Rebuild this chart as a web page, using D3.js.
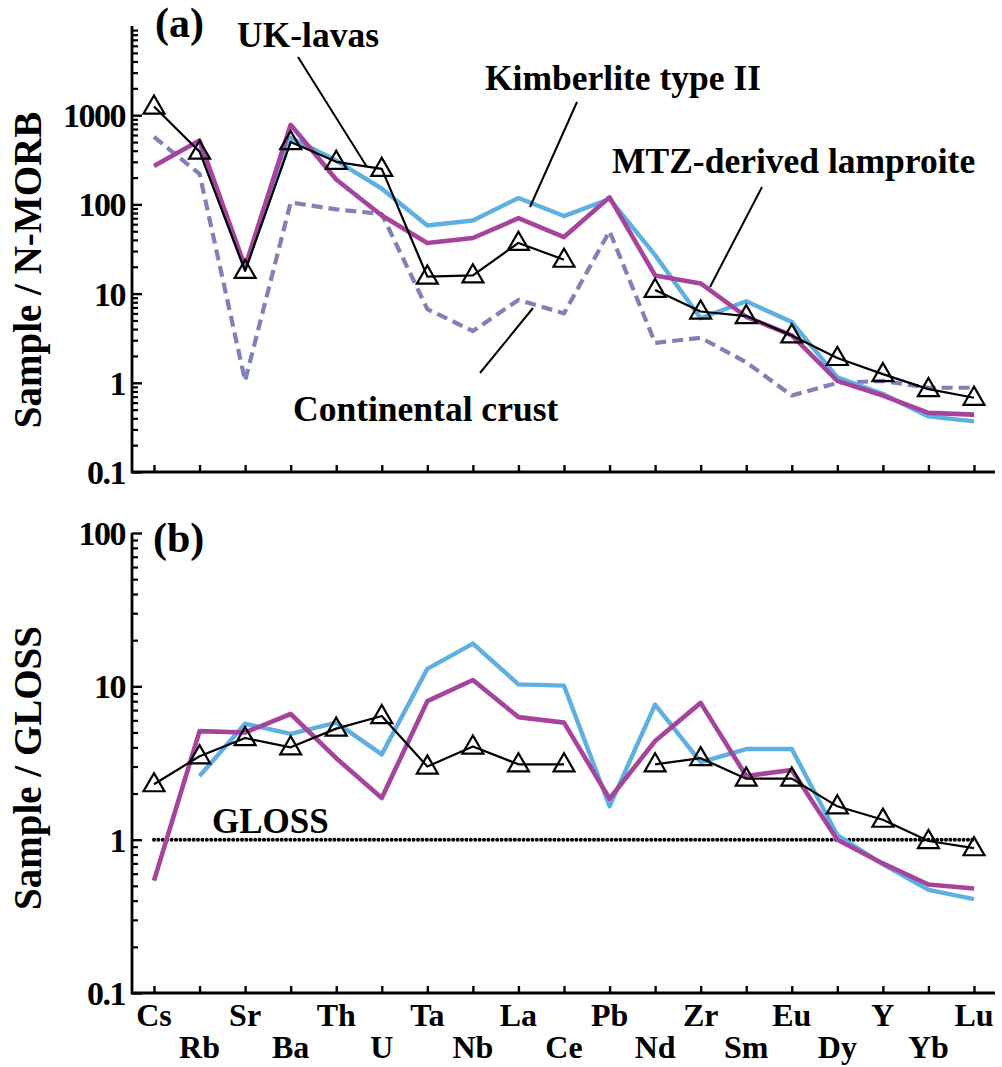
<!DOCTYPE html>
<html><head><meta charset="utf-8">
<script src="https://cdn.jsdelivr.net/npm/d3@7"></script>
<style>
html,body{margin:0;padding:0;background:#fff;}
svg{display:block;}
</style></head>
<body>
<svg id="chart" width="1002" height="1067"></svg>
<script>
const elements = ["Cs","Rb","Sr","Ba","Th","U","Ta","Nb","La","Ce","Pb","Nd","Zr","Sm","Eu","Dy","Y","Yb","Lu"];

// Panel (a): Sample / N-MORB
const ukTop   = [1250, 390, 18, 500, 300, 250, 15.5, 16, 37, 24, null, 11, 6.3, 5.6, 3.4, 1.9, 1.25, 0.85, 0.68];
const kimTop  = [null, 440, 19, 560, 310, 150, 58, 66, 118, 74, 115, 27, 5.3, 8.2, 4.8, 1.15, 0.75, 0.42, 0.37];
const mtzTop  = [270, 520, 20, 780, 190, 75, 37, 42, 70, 43, 120, 16, 13, 5.5, 3.4, 1.05, 0.72, 0.46, 0.44];
const ccTop   = [570, 220, 1.05, 105, 88, 78, 6.7, 3.8, 8.5, 6.0, 50, 2.8, 3.2, 1.7, 0.72, 1.0, 1.05, 0.88, 0.88];

// Panel (b): Sample / GLOSS
const ukBot   = [2.3, 3.5, 4.6, 4.0, 5.3, 6.4, 3.0, 4.05, 3.1, 3.1, null, 3.1, 3.4, 2.5, 2.5, 1.65, 1.35, 0.98, 0.88];
const kimBot  = [null, 2.6, 5.7, 4.9, 5.8, 3.6, 13, 19, 10.3, 10.1, 1.65, 7.6, 3.2, 3.9, 3.9, 1.07, 0.69, 0.47, 0.41];
const mtzBot  = [0.54, 5.1, 5.0, 6.6, 3.4, 1.87, 8.0, 11, 6.3, 5.8, 1.85, 4.4, 7.8, 2.6, 2.85, 1.0, 0.7, 0.51, 0.48];
const glossRef = 1;

const topTickLabels = ["0.1","1","10","100","1000"];
const topTickValues = [0.1, 1, 10, 100, 1000];
const botTickLabels = ["0.1","1","10","100"];
const botTickValues = [0.1, 1, 10, 100];

const COL_KIM = "#5eb0e2", COL_MTZ = "#a6449d", COL_CC = "#7f82b6";
const FONT = "'Liberation Serif', Tinos, 'DejaVu Serif', serif";

const svg = d3.select("#chart");
const x = d3.scalePoint().domain(elements).range([154, 974]);
const AX_L = 132, AX_R = 995;

function txt(g, s, xx, yy, size){
  return g.append("text").attr("x",xx).attr("y",yy).attr("font-size",size)
    .attr("font-family",FONT).attr("font-weight","bold").attr("fill","#000").text(s);
}

function minorTicks(lo, hi){
  const out=[];
  for(let e=Math.log10(lo); e<Math.log10(hi)-1e-9; e++){
    for(let m=2;m<=9;m++) out.push(m*Math.pow(10,e));
  }
  return out;
}

function panel(y, majors, labels, yTop, yBot, title, titleY){
  const g = svg.append("g");
  g.append("g").attr("transform",`translate(${AX_L},0)`)
    .call(d3.axisLeft(y).tickValues(minorTicks(y.domain()[0], y.domain()[1])).tickSize(-6).tickSizeOuter(0).tickFormat(""))
    .call(s=>{s.select(".domain").remove(); s.selectAll("line").attr("stroke-width",2.2);});
  g.append("g").attr("transform",`translate(${AX_L},0)`)
    .call(d3.axisLeft(y).tickValues(majors).tickSize(-10).tickSizeOuter(0).tickPadding(7)
      .tickFormat((d,i)=>labels[i]))
    .attr("font-family",FONT).attr("font-size",34).attr("font-weight","bold")
    .call(s=>{s.select(".domain").remove();
      s.selectAll("line").attr("stroke-width",2.4);
      s.selectAll("text").attr("fill","#000").attr("letter-spacing","-1.5").attr("dy","0.34em");});
  g.append("g").attr("transform",`translate(0,${yBot})`)
    .call(d3.axisBottom(x).tickSize(-7).tickSizeOuter(0).tickFormat(""))
    .call(s=>{s.select(".domain").remove(); s.selectAll("line").attr("stroke-width",2.4);});
  g.append("path").attr("d", d3.line()([[AX_L,yTop],[AX_L,yBot],[AX_R,yBot]]))
    .attr("fill","none").attr("stroke","#000").attr("stroke-width",2.8);
  txt(g, title, 0, 0, 39).attr("transform",`translate(41,${titleY}) rotate(-90)`)
    .attr("text-anchor","middle");
  return g;
}

function series(g, y, vals, color, width, dash){
  const line = d3.line().defined(d=>d[1]!=null).x(d=>x(d[0])).y(d=>y(d[1]));
  const pts = elements.map((e,i)=>[e, vals[i]]);
  g.append("path").attr("d", line(pts)).attr("fill","none").attr("stroke",color)
    .attr("stroke-width",width).attr("stroke-linejoin","round")
    .attr("stroke-dasharray", dash||null);
}
function triangles(g, y, vals){
  const sym = d3.symbol().type(d3.symbolTriangle).size(190);
  g.selectAll(null).data(elements.map((e,i)=>[e, vals[i]]).filter(d=>d[1]!=null))
    .enter().append("path").attr("d", sym)
    .attr("transform", d=>`translate(${x(d[0])},${y(d[1])+1})`)
    .attr("fill","none").attr("stroke","#000").attr("stroke-width",2.2);
}

// ---- Panel (a)
const yA = d3.scaleLog().domain([0.1, 10000]).range([472, 26]);
const gA = panel(yA, topTickValues, topTickLabels, 26, 472, "Sample / N-MORB", 270);
series(gA, yA, ccTop, COL_CC, 4.2, "11,6");
series(gA, yA, kimTop, COL_KIM, 4.4);
series(gA, yA, mtzTop, COL_MTZ, 4.6);
series(gA, yA, ukTop, "#000", 2.2);
triangles(gA, yA, ukTop);

txt(gA, "(a)", 155, 37, 42);
const ann = [
  {t:"UK-lavas", x:237, y:47, l:[[298,57],[367,167]]},
  {t:"Kimberlite type II", x:485, y:90, l:[[577,102],[530,207]]},
  {t:"MTZ-derived lamproite", x:612, y:173, l:[[762,187],[710,287]]},
  {t:"Continental crust", x:293, y:421, l:[[480,373],[533,308]]}
];
ann.forEach(a=>{
  txt(gA, a.t, a.x, a.y, 35.5);
  gA.append("path").attr("d", d3.line()(a.l)).attr("stroke","#000").attr("stroke-width",2);
});

// ---- Panel (b)
const yB = d3.scaleLog().domain([0.1, 100]).range([993, 533]);
const gB = panel(yB, botTickValues, botTickLabels, 533, 993, "Sample / GLOSS", 768);
gB.append("path").attr("d", d3.line()([[x("Cs"), yB(glossRef)],[x("Lu"), yB(glossRef)]]))
  .attr("stroke","#000").attr("stroke-width",4).attr("stroke-linecap","round").attr("stroke-dasharray","0,4.4");
series(gB, yB, kimBot, COL_KIM, 4.4);
series(gB, yB, mtzBot, COL_MTZ, 4.6);
series(gB, yB, ukBot, "#000", 2.2);
triangles(gB, yB, ukBot);
txt(gB, "(b)", 153, 552, 42);
txt(gB, "GLOSS", 212, 833, 35);

elements.forEach((d,i)=>{
  txt(gB, d, x(d), i%2===0 ? 1026 : 1058, 32).attr("text-anchor","middle");
});
</script>
</body></html>
